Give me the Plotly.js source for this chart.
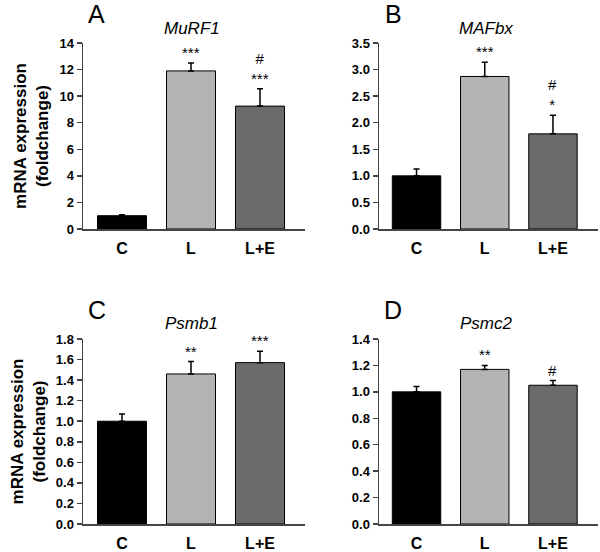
<!DOCTYPE html>
<html>
<head>
<meta charset="utf-8">
<script src="https://cdn.plot.ly/plotly-3.0.1.min.js"></script>
<style>html,body{margin:0;padding:0;background:#fff;}#chart{width:600px;height:552px;}</style>
</head>
<body>
<div id="chart"></div>
<script>
const categories = ['C', 'L', 'L+E'];
const barColors = ['#000000', '#b4b4b4', '#6a6a6a'];

const murf1 = [1.0, 11.9, 9.25];
const murf1Err = [0.07, 0.6, 1.3];
const murf1Sig = ['', '***', '#<br>***'];

const mafbx = [1.0, 2.87, 1.79];
const mafbxErr = [0.13, 0.27, 0.35];
const mafbxSig = ['', '***', '#<br>*'];

const psmb1 = [1.0, 1.46, 1.57];
const psmb1Err = [0.07, 0.12, 0.11];
const psmb1Sig = ['', '**', '***'];

const psmc2 = [1.0, 1.17, 1.05];
const psmc2Err = [0.04, 0.03, 0.035];
const psmc2Sig = ['', '**', '#'];

const errMinus = [0, 0, 0];

const panels = [
  {letter: 'A', gene: 'MuRF1', y: murf1, err: murf1Err, sig: murf1Sig, yr: [0, 14], dt: 2, fmt: '', xa: 'x', ya: 'y',
   xd: [83/600, 305/600], yd: [(552-229)/552, (552-43)/552], xr: [-0.565, 2.652], ytitle: true},
  {letter: 'B', gene: 'MAFbx', y: mafbx, err: mafbxErr, sig: mafbxSig, yr: [0, 3.5], dt: 0.5, fmt: '.1f', xa: 'x2', ya: 'y2',
   xd: [379/600, 598/600], yd: [(552-229)/552, (552-43)/552], xr: [-0.55, 2.66], ytitle: false},
  {letter: 'C', gene: 'Psmb1', y: psmb1, err: psmb1Err, sig: psmb1Sig, yr: [0, 1.8], dt: 0.2, fmt: '.1f', xa: 'x3', ya: 'y3',
   xd: [83/600, 305/600], yd: [(552-524)/552, (552-339)/552], xr: [-0.565, 2.652], ytitle: true},
  {letter: 'D', gene: 'Psmc2', y: psmc2, err: psmc2Err, sig: psmc2Sig, yr: [0, 1.4], dt: 0.2, fmt: '.1f', xa: 'x4', ya: 'y4',
   xd: [379/600, 598/600], yd: [(552-524)/552, (552-339)/552], xr: [-0.55, 2.66], ytitle: false}
];

const FONT = 'Liberation Sans, Arial, sans-serif';
const traces = [];
const layout = {
  width: 600, height: 552,
  margin: {l: 0, r: 0, t: 0, b: 0},
  paper_bgcolor: '#ffffff', plot_bgcolor: '#ffffff',
  showlegend: false,
  font: {family: FONT, color: '#000'},
  annotations: []
};

panels.forEach((p, i) => {
  traces.push({
    type: 'bar', x: categories, y: p.y, xaxis: p.xa, yaxis: p.ya,
    width: 0.71,
    marker: {color: barColors, line: {color: '#000', width: 1}},
    error_y: {type: 'data', symmetric: false, array: p.err, arrayminus: errMinus,
              color: '#000', thickness: 1.5, width: 3},
    hoverinfo: 'none'
  });
  const xk = 'xaxis' + (i === 0 ? '' : (i + 1));
  const yk = 'yaxis' + (i === 0 ? '' : (i + 1));
  layout[xk] = {
    domain: p.xd, anchor: p.ya, range: p.xr, type: 'category',
    showline: true, linecolor: '#444', linewidth: 1.5,
    ticks: '', showgrid: false, zeroline: false,
    tickfont: {family: FONT, size: 16, weight: 'bold', color: '#000'},
    ticklabelstandoff: 4, fixedrange: true
  };
  layout[yk] = {
    domain: p.yd, anchor: p.xa, range: p.yr, dtick: p.dt, tick0: 0, tickformat: p.fmt,
    showline: true, linecolor: '#444', linewidth: 1.5,
    ticks: 'outside', ticklen: 5, tickwidth: 1.5, tickcolor: '#444',
    showgrid: false, zeroline: false,
    tickfont: {family: FONT, size: 13, weight: 'bold', color: '#000'},
    fixedrange: true
  };
  if (p.ytitle) {
    layout[yk].title = {text: 'mRNA expression<br>(foldchange)', standoff: 6,
      font: {family: FONT, size: 17, weight: 'bold', color: '#000'}};
  }
  // panel letter
  layout.annotations.push({
    xref: 'paper', yref: 'paper', x: (p.xd[0] * 600 + 14) / 600, y: p.yd[1] + 29 / 552,
    xanchor: 'center', yanchor: 'middle', showarrow: false,
    text: p.letter, font: {family: FONT, size: 25, color: '#000'}
  });
  // gene name
  layout.annotations.push({
    xref: p.xa + ' domain', yref: 'paper', x: 0.49, y: p.yd[1] + 15 / 552,
    xanchor: 'center', yanchor: 'middle', showarrow: false,
    text: '<i>' + p.gene + '</i>', font: {family: FONT, size: 17, color: '#000'}
  });
  // significance marks
  categories.forEach((c, j) => {
    if (!p.sig[j]) return;
    layout.annotations.push({
      xref: p.xa, yref: p.ya, x: c, y: p.y[j] + p.err[j],
      xanchor: 'center', yanchor: 'bottom', yshift: 0, showarrow: false,
      text: p.sig[j], font: {family: FONT, size: 15, color: '#000'}
    });
  });
});

Plotly.newPlot('chart', traces, layout, {staticPlot: true, displayModeBar: false});
</script>
</body>
</html>
